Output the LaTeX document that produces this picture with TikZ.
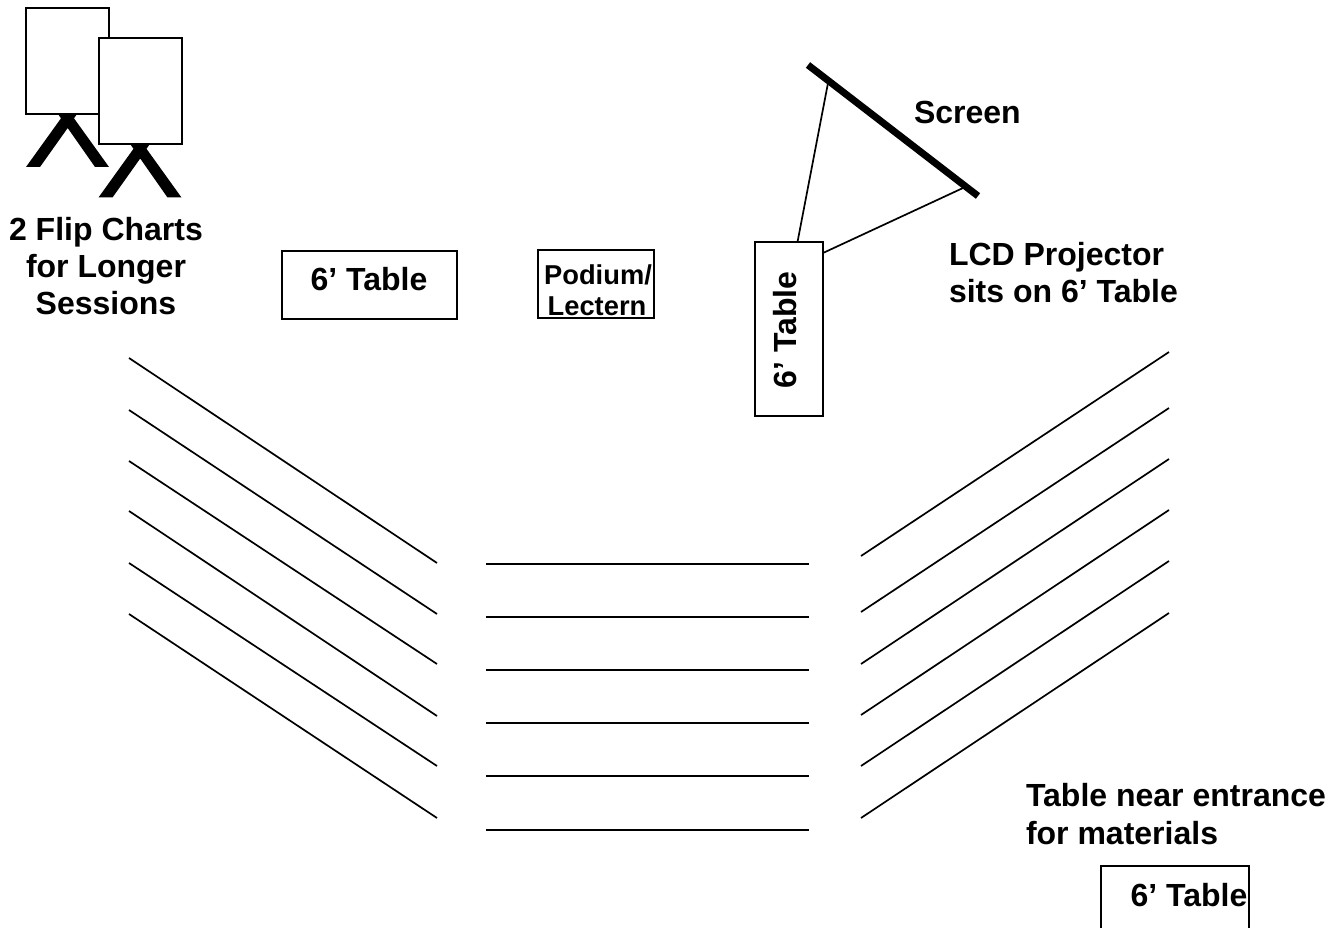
\documentclass[tikz,border=0pt]{standalone}
\usepackage{fontspec}
\setmainfont{Liberation Sans}
\tikzset{
  every node/.style={inner sep=0pt,outer sep=0pt,font=\fontsize{32}{36}\selectfont\bfseries},
  lbl/.style={anchor=base west},
  lblc/.style={anchor=base},
  podfont/.style={font=\fontsize{27.3}{30}\selectfont\bfseries},
  tline/.style={line width=1.7pt,black},
  chart/.style={draw=black,line width=2pt,fill=white},
  legs/.pic={\fill (58,114) -- (77,114) -- (74,118.3) -- (109,167) -- (95,167) -- (67.7,128) -- (40,167) -- (26,167) -- (61,118.3) -- cycle;},
}
\begin{document}
\begin{tikzpicture}[x=1pt,y=-1pt]
\useasboundingbox (0,0) rectangle (1336,928);
% flip charts
\pic at (0,0) {legs};
\draw[chart] (26,8) rectangle (109,114);
\pic at (72.5,30.5) {legs};
\draw[chart] (98.5,38.5) rectangle (182,144.5);
\node[lblc] (fc1) at (106,240.5) {2 Flip Charts};
\node[lblc] (fc2) at (106,277) {for Longer};
\node[lblc] (fc3) at (106,314) {Sessions};
% tables
\draw[chart] (282,251) rectangle (457,319);
\node (t1) at (369,279) {6’ Table};
\draw[chart] (538,250) rectangle (654,318);
\node[lblc,podfont] (pod1) at (598,284) {Podium/};
\node[lblc,podfont] (pod2) at (597,315) {Lectern};
\draw[chart] (754.5,242) rectangle (823,416);
\node[rotate=90] (t2) at (785.5,330) {6’ Table};
\draw[chart] (1101,866) rectangle (1249,935);
\node (t3) at (1189,895) {6’ Table};
% screen and projection
\coordinate (s1) at (808,65);
\coordinate (s2) at (978,196);
\coordinate (p1) at (797.5,242);
\coordinate (q1) at (828,83);
\coordinate (p2) at (823,253);
\coordinate (q2) at (963,188);
\draw[line width=7pt] (s1) -- (s2);
\draw[tline] (p1) -- (q1);
\draw[tline] (p2) -- (q2);
\node[lbl] (scr) at (914,124) {Screen};
\node[lbl] (lcd1) at (949,265.5) {LCD Projector};
\node[lbl] (lcd2) at (949,302) {sits on 6’ Table};
\node[lbl] (ent1) at (1026,806) {Table near entrance};
\node[lbl] (ent2) at (1026,844) {for materials};
% rows of seating
\foreach \i/\a/\b in {1/358/563,2/410/614,3/461/664,4/511/716,5/563/766,6/614/818}{
  \coordinate (la\i) at (129,\a); \coordinate (lb\i) at (437,\b);
  \draw[tline] (la\i) -- (lb\i);
}
\foreach \i/\a in {1/564,2/617,3/670,4/723,5/776,6/830}{
  \coordinate (ca\i) at (486,\a); \coordinate (cb\i) at (809,\a);
  \draw[tline] (ca\i) -- (cb\i);
}
\foreach \i/\a/\b in {1/556/352,2/612/408,3/664/459,4/715/510,5/766/561,6/818/613}{
  \coordinate (ra\i) at (861,\a); \coordinate (rb\i) at (1169,\b);
  \draw[tline] (ra\i) -- (rb\i);
}
\end{tikzpicture}
\end{document}
